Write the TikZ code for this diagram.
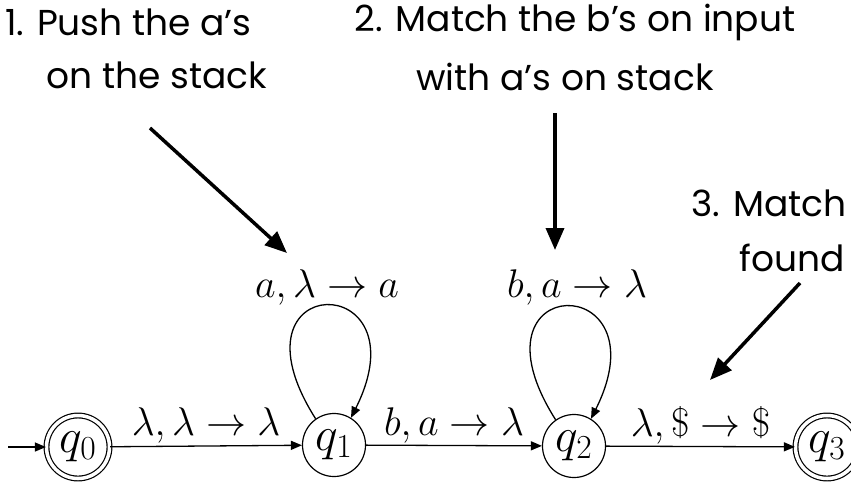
\documentclass[tikz,border=0pt]{standalone}
\usepackage{fix-cm}
\usepackage{fontspec}
\setmainfont{Poppins}
\usetikzlibrary{arrows.meta}
\tikzset{
  state/.style={draw, circle, line width=1.2pt, minimum size=63pt, inner sep=0pt,
    font=\fontsize{48}{50}\selectfont},
  accept/.style={state, double, double distance=3.5pt},
  edge/.style={line width=1.3pt, -{Triangle[length=11pt,width=9pt]}},
  elabel/.style={font=\fontsize{40}{44}\selectfont, inner sep=2pt},
  note/.style={font=\fontsize{36}{40}\selectfont, inner sep=0pt},
  pointer/.style={line width=3.5pt, -{Triangle[length=22pt,width=18pt]}}
}
\begin{document}
\begin{tikzpicture}[x=1pt,y=-1pt]
\useasboundingbox (0,0) rectangle (851,483);
\clip (0,0) rectangle (851,483);
% states
\node[accept] (q0) at (78,447) {$q_0$};
\node[state]  (q1) at (334,445) {$q_1$};
\node[state]  (q2) at (574,446) {$q_2$};
\node[accept] (q3) at (827,447) {$q_3$};
\coordinate (start) at (8,447);
% transitions
\draw[edge] (start) -- (q0);
\draw[edge] (q0) -- node[elabel, above] {$\lambda,\lambda\to\lambda$} (q1);
\draw[edge] (q1) -- node[elabel, above] {$b,a\to\lambda$} (q2);
\draw[edge] (q2) -- node[elabel, above] {$\lambda,\$\to\$$} (q3);
\draw[edge] (q1.125) .. controls +(-95,-150) and +(75,-150) .. (q1.58);
\draw[edge] (q2.125) .. controls +(-95,-150) and +(75,-150) .. (q2.58);
\node[elabel] (l1) at (327,287) {$a,\lambda\to a$};
\node[elabel] (l2) at (577,287) {$b,a\to\lambda$};
% notes
\node[note, anchor=west] (n1a) at (5,22) {1. Push the a’s};
\node[note] (n1b) at (157,75) {on the stack};
\node[note] (n2a) at (575,22) {2. Match the b’s on input};
\node[note] (n2b) at (565,77) {with a’s on stack};
\node[note] (n3a) at (769,203) {3. Match};
\node[note, anchor=east] (n3b) at (845,258) {found};
\coordinate (p1s) at (150,128);
\coordinate (p1e) at (287,253);
\coordinate (p2s) at (555,113);
\coordinate (p2e) at (555,250);
\coordinate (p3s) at (800,283);
\coordinate (p3e) at (710,380);
\draw[pointer] (p1s) -- (p1e);
\draw[pointer] (p2s) -- (p2e);
\draw[pointer] (p3s) -- (p3e);
\end{tikzpicture}
\end{document}
